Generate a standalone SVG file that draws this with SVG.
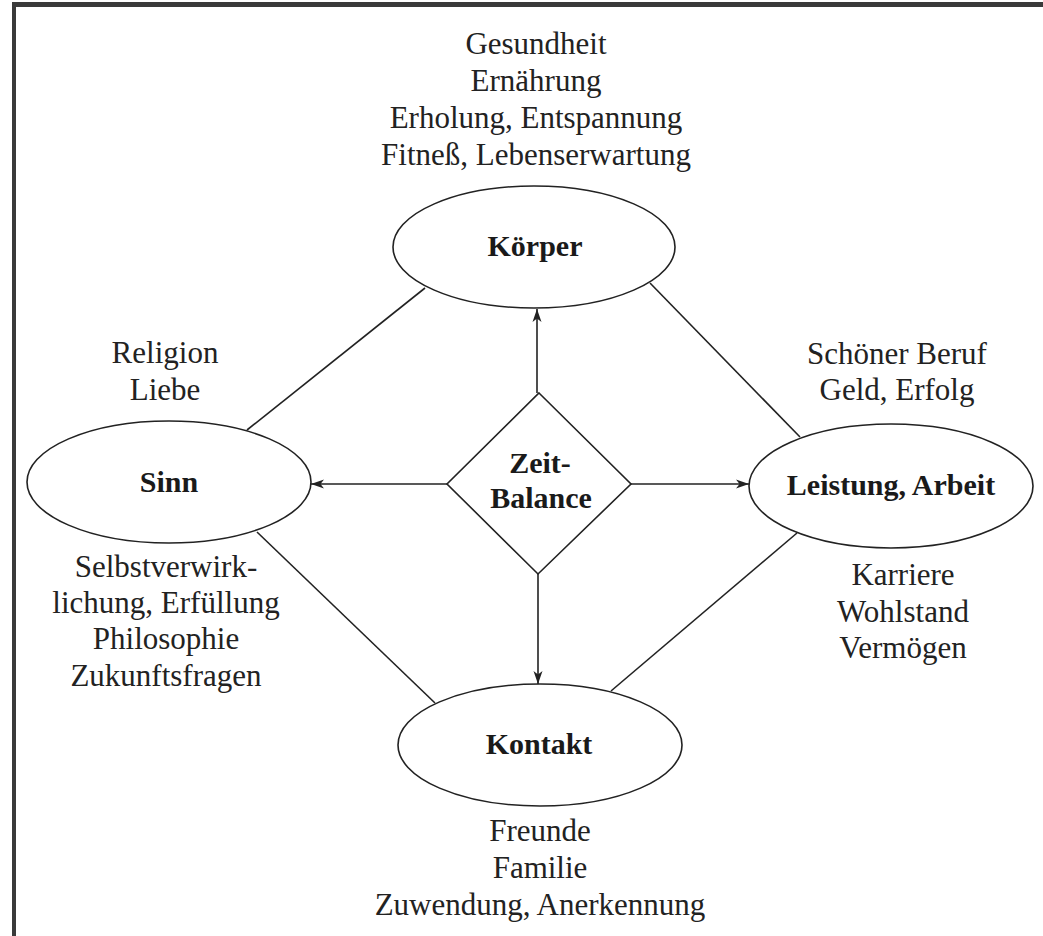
<svg xmlns="http://www.w3.org/2000/svg" width="1043" height="936" viewBox="0 0 1043 936">
<style>
.bg{fill:#fff}
.node{fill:#fff;stroke:#222;stroke-width:1.6}
.edge{stroke:#222;stroke-width:1.6;fill:none}
.lbl{font-family:"Liberation Serif",serif;font-size:31px;fill:#222;text-anchor:middle}
.title{font-family:"Liberation Serif",serif;font-size:30px;font-weight:bold;fill:#1a1a1a;text-anchor:middle}
</style>
<defs>
<marker id="ah" markerWidth="14" markerHeight="10" refX="13" refY="5" orient="auto" markerUnits="userSpaceOnUse">
<path d="M0,0.5 L13,5 L0,9.5 L3.5,5 z" fill="#222"/>
</marker>
</defs>
<rect class="bg" x="0" y="0" width="1043" height="936"/>
<g id="frame">
<rect x="12" y="2" width="1031" height="5" fill="#3a3a3a"/>
<rect x="12" y="2" width="4" height="934" fill="#3a3a3a"/>
</g>
<g id="connectors">
<line class="edge" x1="425" y1="288" x2="247" y2="430"/>
<line class="edge" x1="650" y1="283" x2="800" y2="437"/>
<line class="edge" x1="257" y1="532" x2="435" y2="703"/>
<line class="edge" x1="797" y1="533" x2="611" y2="691"/>
<line class="edge" x1="537" y1="393" x2="537" y2="309" marker-end="url(#ah)"/>
<line class="edge" x1="447" y1="484" x2="311" y2="484" marker-end="url(#ah)"/>
<line class="edge" x1="631" y1="484" x2="749" y2="484" marker-end="url(#ah)"/>
<line class="edge" x1="538" y1="574" x2="538" y2="684" marker-end="url(#ah)"/>
</g>
<g id="koerper">
<ellipse class="node" cx="534" cy="247" rx="141" ry="61"/>
<text class="title" x="535" y="256">Körper</text>
<text class="lbl" x="536" y="54">Gesundheit</text>
<text class="lbl" x="536" y="91">Ernährung</text>
<text class="lbl" x="536" y="128">Erholung, Entspannung</text>
<text class="lbl" x="536" y="165">Fitneß, Lebenserwartung</text>
</g>
<g id="sinn">
<ellipse class="node" cx="169" cy="482" rx="142" ry="61"/>
<text class="title" x="169" y="492">Sinn</text>
<text class="lbl" x="165" y="363">Religion</text>
<text class="lbl" x="165" y="400">Liebe</text>
<text class="lbl" x="166" y="577">Selbstverwirk-</text>
<text class="lbl" x="166" y="613">lichung, Erfüllung</text>
<text class="lbl" x="166" y="649">Philosophie</text>
<text class="lbl" x="166" y="686">Zukunftsfragen</text>
</g>
<g id="leistung">
<ellipse class="node" cx="891" cy="486" rx="142" ry="62"/>
<text class="title" x="891" y="495">Leistung, Arbeit</text>
<text class="lbl" x="897" y="364">Schöner Beruf</text>
<text class="lbl" x="897" y="400">Geld, Erfolg</text>
<text class="lbl" x="903" y="585">Karriere</text>
<text class="lbl" x="903" y="622">Wohlstand</text>
<text class="lbl" x="903" y="658">Vermögen</text>
</g>
<g id="kontakt">
<ellipse class="node" cx="540" cy="745" rx="142" ry="61"/>
<text class="title" x="539" y="754">Kontakt</text>
<text class="lbl" x="540" y="841">Freunde</text>
<text class="lbl" x="540" y="878">Familie</text>
<text class="lbl" x="540" y="915">Zuwendung, Anerkennung</text>
</g>
<g id="zeitbalance">
<polygon class="node" points="539,393 631,484 538,574 447,484"/>
<text class="title" x="540" y="473">Zeit-</text>
<text class="title" x="541" y="508">Balance</text>
</g>
</svg>
